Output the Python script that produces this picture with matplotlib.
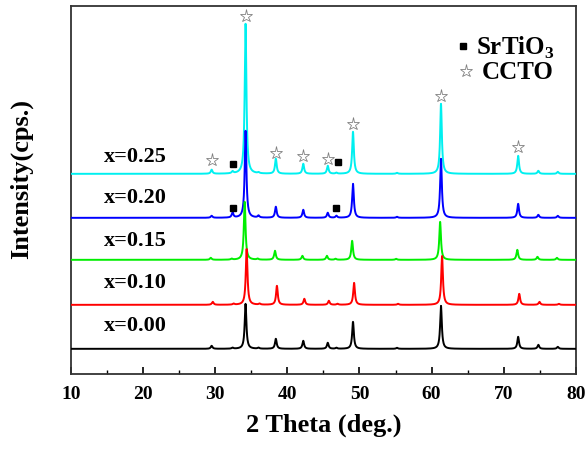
import numpy as np
import matplotlib.pyplot as plt

plt.rcParams['font.family'] = ['Liberation Serif', 'DejaVu Serif']
plt.rcParams['font.weight'] = 'bold'
plt.rcParams['mathtext.fontset'] = 'custom'
plt.rcParams['mathtext.rm'] = 'Liberation Serif'

# peak positions (2 theta, deg.) seen in the patterns
peaks = [29.5, 32.4, 34.2, 36.0, 38.4, 42.2, 45.6, 46.8, 49.1, 55.2, 61.3, 72.0, 74.8, 77.5]

# peak heights per sample (arb. units)
h_000 = [3, 1, 45, 1, 10, 8, 6, 1, 27, 1, 43, 12, 4, 2]
h_010 = [3, 1, 56, 1, 19, 6, 4, 1, 22, 1, 49, 11, 3, 1]
h_015 = [2, 1, 58, 1, 9, 4, 4, 1, 19, 1, 38, 10, 3, 2]
h_020 = [2, 5, 87, 2, 11, 8, 5, 2, 34, 1, 59, 14, 3, 2]
h_025 = [4, 2, 150, 1, 15, 10, 8, 1, 42, 1, 70, 18, 3, 2]

shifts = [0.0, 0.15, -0.12, 0.0, 0.0]
offsets = [25, 69, 114, 156, 200]
labels = ['x=0.00', 'x=0.10', 'x=0.15', 'x=0.20', 'x=0.25']
colors = ['black', '#ff0000', '#00ee00', '#0000ff', '#00f0f0']
label_y = [49, 92, 134, 177, 218]

# phase markers on the top patterns
ccto_x = [29.5, 34.2, 38.4, 42.2, 45.6, 49.1, 61.3, 72.0]
ccto_y = [214, 358, 221, 218, 215, 250, 278, 227]
sto_x = [32.4, 47.0, 32.4, 46.8]
sto_y = [210, 212, 166, 166]

x = np.arange(10, 80.001, 0.02)

def pattern(heights, shift):
    y = np.zeros_like(x)
    for p, h in zip(peaks, heights):
        y += h / (1 + ((x - p - shift) / 0.14) ** 2)
    return y

fig = plt.figure(figsize=(5.87, 4.56), dpi=100)
ax = fig.add_axes([0.121, 0.178, 0.86, 0.807])

series = [h_000, h_010, h_015, h_020, h_025]
# draw from top pattern to bottom, lower ones on top
for i in range(4, -1, -1):
    ax.plot(x, pattern(series[i], shifts[i]) + offsets[i], color=colors[i], lw=1.4, zorder=10 - i)
    ax.text(14.5, label_y[i], labels[i], fontsize=16, fontweight='bold', va='center', ha='left')

ax.plot(ccto_x, ccto_y, ls='none', marker='*', ms=9.5, mfc='white', mec='#808080', mew=0.6, zorder=20)
ax.plot(sto_x, sto_y, ls='none', marker='s', ms=5, color='black', zorder=20)

# legend
ax.plot([64.3], [328], ls='none', marker='s', ms=5, color='black')
ax.text(66.2, 327, r'SrTiO$_\mathrm{3}$', fontsize=18, fontweight='bold', va='center')
ax.plot([64.8], [303], ls='none', marker='*', ms=9.5, mfc='white', mec='#808080', mew=0.6)
ax.text(66.9, 302, 'CCTO', fontsize=18, fontweight='bold', va='center')

ax.set_xlim(10, 80)
ax.set_ylim(0, 368)
ax.set_xticks(range(10, 81, 10))
ax.set_xticks(range(15, 80, 10), minor=True)
ax.set_yticks([])
ax.tick_params(axis='x', which='major', direction='in', length=5, width=1.2, labelsize=14, pad=8)
ax.tick_params(axis='x', which='minor', direction='in', length=3, width=1.0)
for lab in ax.get_xticklabels():
    lab.set_fontweight('bold')
for s in ax.spines.values():
    s.set_linewidth(1.3)
    s.set_color('#333333')

ax.set_xlabel('2 Theta (deg.)', fontsize=19, fontweight='bold', labelpad=8)
ax.set_ylabel('Intensity(cps.)', fontsize=19, fontweight='bold')
ax.yaxis.set_label_coords(-0.076, 0.533)

fig.savefig('out.png', dpi=100)
